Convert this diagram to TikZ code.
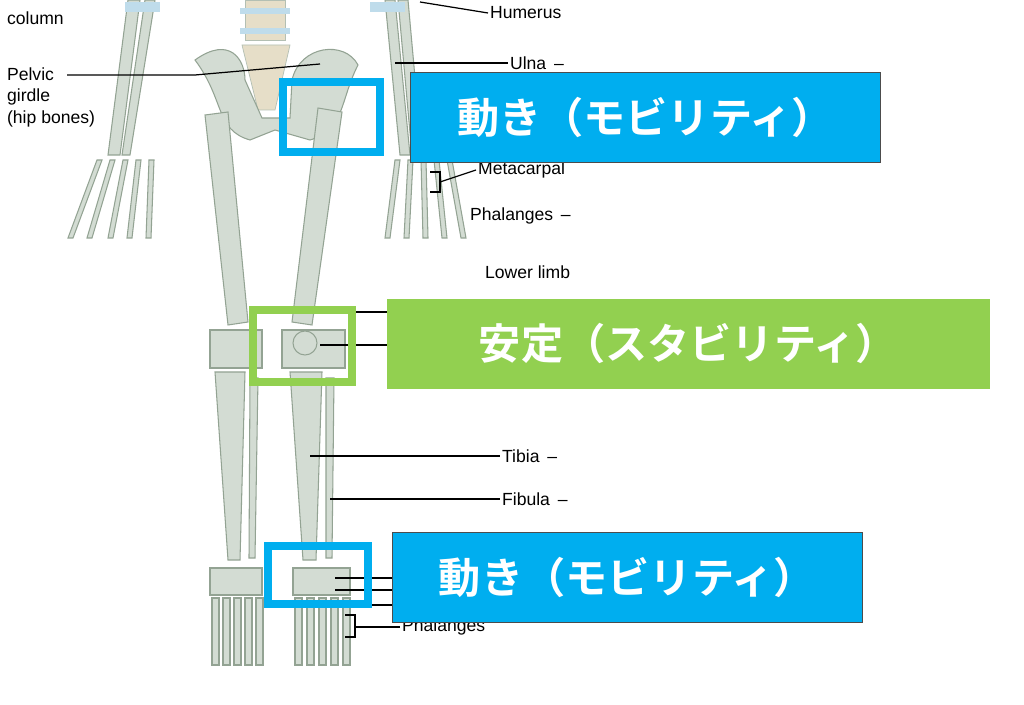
\documentclass[tikz,border=0pt]{standalone}
\usepackage{fontspec}
\setmainfont{Liberation Sans}
\newfontfamily\jpfont{Noto Sans CJK JP Bold}
\definecolor{bone}{HTML}{D3DCD3}
\definecolor{boneline}{HTML}{93A393}
\definecolor{spine}{HTML}{E6DEC8}
\definecolor{joint}{HTML}{BFDCEB}
\definecolor{mobblue}{HTML}{00AEEF}
\definecolor{stabgreen}{HTML}{92D050}
\tikzset{
  bonepart/.style={draw=boneline,fill=bone,line width=0.6pt},
  lbl/.style={font=\fontsize{10}{12}\selectfont,anchor=west,inner sep=1pt},
  leader/.style={draw=black,line width=0.7pt},
  markframe/.style={line width=4.5pt},
  banner/.style={draw=black!70,line width=0.6pt,text=white,minimum height=1.8cm,
    font=\jpfont\fontsize{24}{28}\selectfont,inner sep=0pt}
}
\begin{document}
\begin{tikzpicture}[x=0.02cm,y=-0.02cm]
  \useasboundingbox[fill=white] (0,0) rectangle (1024,705);
  % spine and sacrum
  \fill[spine,draw=boneline!70] (245,0) rectangle (285,40);
  \fill[joint] (240,8) rectangle (290,14);
  \fill[joint] (240,28) rectangle (290,34);
  \fill[spine,draw=boneline!70] (242,45) -- (290,45) -- (275,110) -- (258,110) -- cycle;
  % pelvis
  \path[bonepart] (195,60) .. controls (230,35) and (245,60) .. (245,80)
    -- (262,118) -- (290,118) -- (292,80) .. controls (300,45) and (345,40) .. (358,65)
    .. controls (340,100) and (345,130) .. (310,140) -- (275,130) -- (250,140)
    .. controls (215,130) and (225,100) .. cycle;
  % arms
  \path[bonepart] (128,0) -- (140,0) -- (120,155) -- (108,155) -- cycle;
  \path[bonepart] (145,0) -- (155,0) -- (130,155) -- (122,155) -- cycle;
  \path[bonepart] (385,0) -- (395,0) -- (410,155) -- (400,155) -- cycle;
  \path[bonepart] (398,0) -- (408,0) -- (422,155) -- (412,155) -- cycle;
  \fill[joint] (125,2) rectangle (160,12);
  \fill[joint] (370,2) rectangle (405,12);
  % hands
  \foreach \x/\d in {82/-14,95/-8,108/0,121/6,134/12} {
    \path[bonepart] (\x+15,160) -- (\x+20,160) -- (\x+\d+5,238) -- (\x+\d,238) -- cycle;
  }
  \foreach \x/\d in {390/-12,403/-6,416/0,429/6,442/12} {
    \path[bonepart] (\x+5,160) -- (\x+10,160) -- (\x+\d+12,238) -- (\x+\d+7,238) -- cycle;
  }
  % femurs
  \path[bonepart] (205,115) -- (228,112) -- (248,322) -- (228,325) -- cycle;
  \path[bonepart] (318,108) -- (342,112) -- (312,325) -- (292,322) -- cycle;
  % knees
  \path[bonepart] (210,330) rectangle (262,368);
  \path[bonepart] (282,330) rectangle (345,368);
  \path[bonepart] (305,343) circle[radius=12];
  % lower legs
  \path[bonepart] (215,372) -- (245,372) -- (240,560) -- (228,560) -- cycle;
  \path[bonepart] (250,378) -- (258,378) -- (255,558) -- (249,558) -- cycle;
  \path[bonepart] (290,372) -- (322,372) -- (316,560) -- (303,560) -- cycle;
  \path[bonepart] (326,378) -- (334,378) -- (332,558) -- (326,558) -- cycle;
  % feet
  \path[bonepart] (210,568) rectangle (262,595);
  \path[bonepart] (293,568) rectangle (350,595);
  \foreach \x in {0,1,2,3,4} {
    \path[bonepart] (212+\x*11,598) rectangle (219+\x*11,665);
    \path[bonepart] (295+\x*12,598) rectangle (302+\x*12,665);
  }
  % labels and leaders
  \node[lbl] (column) at (5,18) {column};
  \node[lbl,align=left,anchor=north west] (pelvic) at (5,66) {Pelvic\\girdle\\(hip bones)};
  \node[lbl] (humerus) at (488,13) {Humerus};
  \node[lbl] (ulna) at (508,63) {Ulna \,–};
  \node[lbl] (metacarpal) at (476,170) {Metacarpal};
  \node[lbl] (phal) at (468,216) {Phalanges \,–};
  \node[lbl] (lower) at (483,272) {Lower limb};
  \node[lbl] (tibia) at (500,456) {Tibia \,–};
  \node[lbl] (fibula) at (500,499) {Fibula \,–};
  \node[lbl] (phalfoot) at (400,627) {Phalanges};
  \coordinate (pv1) at (195,75); \coordinate (pv2) at (320,64);
  \draw[leader] (67,75) -- (pv1) -- (pv2);
  \draw[leader] (420,2) -- (humerus.west);
  \draw[leader] (395,63) -- (ulna.west);
  \draw[leader] (430,172) -- (440,172) -- (440,192) -- (430,192);
  \draw[leader] (440,182) -- (metacarpal.west);
  \draw[leader] (330,312) -- (390,312);
  \draw[leader] (320,345) -- (390,345);
  \draw[leader] (310,456) -- (tibia.west);
  \draw[leader] (330,499) -- (fibula.west);
  \foreach \y in {578,590,605} { \draw[leader] (335,\y) -- (395,\y); }
  \draw[leader] (345,615) -- (355,615) -- (355,637) -- (345,637);
  \draw[leader] (355,627) -- (phalfoot.west);
  % marker frames
  \draw[mobblue,markframe] (283,82) rectangle (380,152);
  \draw[stabgreen,markframe] (253,310) rectangle (352,382);
  \draw[mobblue,markframe] (268,546) rectangle (368,604);
  % banners
  \node[banner,fill=mobblue,minimum width=9.4cm,anchor=north west] (mob1) at (410,72) {動き（モビリティ）};
  \node[banner,fill=stabgreen,minimum width=12.08cm,anchor=north west,draw=none] (stab) at (386,298) {安定（スタビリティ）};
  \node[banner,fill=mobblue,minimum width=9.4cm,anchor=north west] (mob2) at (392,532) {動き（モビリティ）};
\end{tikzpicture}
\end{document}
